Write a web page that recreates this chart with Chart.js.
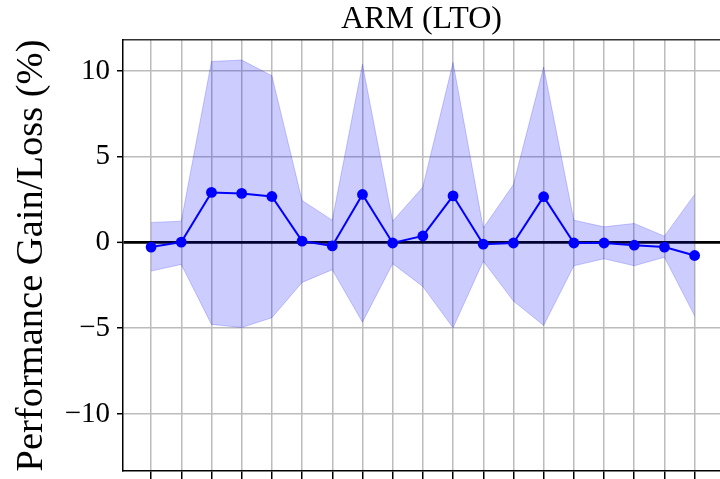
<!DOCTYPE html>
<html><head><meta charset="utf-8">
<script src="https://cdn.jsdelivr.net/npm/chart.js@4/dist/chart.umd.min.js"></script>
<style>html,body{margin:0;padding:0;background:#fff;overflow:hidden;}</style>
</head><body>
<canvas id="c" width="720" height="479" style="display:block;width:720px;height:479px"></canvas>
<script>
const categories = [0, 1, 2, 3, 4, 5, 6, 7, 8, 9, 10, 11, 12, 13, 14, 15, 16, 17, 18];
const meanGain   = [-0.27, 0.02, 2.92, 2.86, 2.68, 0.08, -0.20, 2.80, -0.03, 0.38, 2.72, -0.10, -0.03, 2.67, -0.03, -0.03, -0.16, -0.27, -0.76];
const upperBound = [1.17, 1.24, 10.56, 10.64, 9.73, 2.45, 1.30, 10.40, 1.24, 3.23, 10.50, 0.84, 3.38, 10.23, 1.30, 0.91, 1.11, 0.37, 2.80];
const lowerBound = [-1.67, -1.28, -4.78, -4.96, -4.39, -2.33, -1.59, -4.65, -1.24, -2.57, -4.98, -1.09, -3.42, -4.84, -1.36, -0.95, -1.36, -0.86, -4.28];
const yTicks = [-10, -5, 0, 5, 10];
const xRange = [-0.93, 18.84];
const yRange = [-13.33, 11.81];
const chartTitle = 'ARM (LTO)';
const yTitle = 'Performance Gain/Loss (%)';

const pts = arr => categories.map((c, i) => ({x: c, y: arr[i]}));
const serif = "'Liberation Serif', 'DejaVu Serif', serif";
const gridGrey = '#bcbcbc';

new Chart(document.getElementById('c'), {
  type: 'line',
  data: {
    datasets: [
      {
        label: 'mean', data: pts(meanGain), order: 0,
        borderColor: '#0000ff', backgroundColor: '#0000ff', borderWidth: 2,
        pointRadius: 5.4, pointHoverRadius: 5.4, pointBorderWidth: 0, fill: false, tension: 0
      },
      {
        label: 'upper', data: pts(upperBound), order: 1,
        borderColor: 'rgba(0,0,255,0.2)', backgroundColor: 'rgba(0,0,255,0.2)', borderWidth: 1,
        pointRadius: 0, fill: '+1', tension: 0
      },
      {
        label: 'lower', data: pts(lowerBound), order: 1,
        borderColor: 'rgba(0,0,255,0.2)', backgroundColor: 'rgba(0,0,255,0.2)', borderWidth: 1,
        pointRadius: 0, fill: false, tension: 0
      }
    ]
  },
  options: {
    responsive: false, animation: false, devicePixelRatio: 1,
    layout: {padding: 0, autoPadding: false},
    plugins: {
      legend: {display: false}, tooltip: {enabled: false},
      title: {display: true, fullSize: false, text: chartTitle, color: '#000',
        font: {family: serif, size: 32, weight: 'normal', lineHeight: 1.2},
        padding: {top: 0, bottom: 1.6}}
    },
    scales: {
      x: {
        type: 'linear', position: 'bottom', min: xRange[0], max: xRange[1],
        afterBuildTicks: s => { s.ticks = categories.map(v => ({value: v})); },
        afterFit: s => { s.paddingLeft = 0; s.paddingRight = 0; },
        ticks: {display: false},
        grid: {color: gridGrey, lineWidth: 1.5, drawTicks: true, tickLength: 8, tickColor: '#000', tickWidth: 1.5},
        border: {display: true, color: '#000', width: 1.5}
      },
      xTop: {
        type: 'linear', position: 'top', min: xRange[0], max: xRange[1],
        ticks: {display: false},
        grid: {display: false, drawTicks: false},
        border: {display: true, color: '#333', width: 1.5}
      },
      y: {
        type: 'linear', position: 'left', min: yRange[0], max: yRange[1],
        afterBuildTicks: s => { s.ticks = yTicks.map(v => ({value: v})); },
        afterFit: s => { s.width = 123; s.paddingTop = 0; s.paddingBottom = 0; },
        ticks: {
          color: '#000', padding: 7,
          font: {family: serif, size: 29},
          callback: v => v < 0 ? '\u2212' + Math.abs(v) : String(v)
        },
        grid: {
          color: c => (c.tick && c.tick.value === 0) ? '#000' : gridGrey,
          lineWidth: c => (c.tick && c.tick.value === 0) ? 2.7 : 1.5,
          tickLength: 6, tickColor: '#000', tickWidth: 1.5
        },
        border: {display: true, color: '#000', width: 1.5},
        title: {display: true, text: yTitle, color: '#000',
          font: {family: serif, size: 38.5, lineHeight: 1.2},
          padding: {top: 9, bottom: 0}}
      }
    }
  }
});
</script>
</body></html>
